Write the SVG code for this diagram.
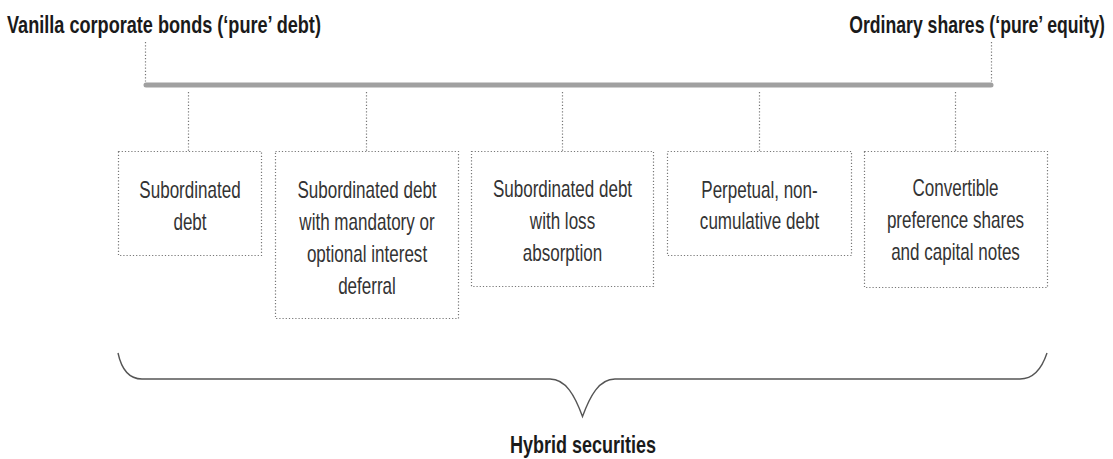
<svg xmlns="http://www.w3.org/2000/svg" width="1113" height="459" viewBox="0 0 1113 459">
<style>
.title{font-family:"Liberation Sans",Arial,sans-serif;font-weight:bold;font-size:24px;fill:#1a1a1a}
.lbl{font-family:"Liberation Sans",Arial,sans-serif;font-size:24px;fill:#333;text-anchor:middle}
.box{fill:none;stroke:#777;stroke-width:1.2;stroke-dasharray:1.2 2}
.dot{stroke:#777;stroke-width:1.2;stroke-dasharray:1.2 2;fill:none}
</style>
<rect width="1113" height="459" fill="#fff"/>
<g id="title-debt" transform="translate(7,0) scale(0.755,1)"><text class="title" x="0" y="33">Vanilla corporate bonds (‘pure’ debt)</text></g>
<g id="title-equity" transform="translate(1105,0) scale(0.7355,1)"><text class="title" x="0" y="33" text-anchor="end">Ordinary shares (‘pure’ equity)</text></g>
<g id="connectors">
<line class="dot" x1="145.5" y1="42" x2="145.5" y2="84"/>
<line class="dot" x1="991.5" y1="42" x2="991.5" y2="84"/>
<line x1="146" y1="85" x2="991" y2="85" stroke="#a0a0a0" stroke-width="5" stroke-linecap="round"/>
<line class="dot" x1="188.5" y1="92" x2="188.5" y2="151"/>
<line class="dot" x1="366.5" y1="92" x2="366.5" y2="151"/>
<line class="dot" x1="562.5" y1="92" x2="562.5" y2="151"/>
<line class="dot" x1="759.5" y1="92" x2="759.5" y2="151"/>
<line class="dot" x1="955.5" y1="92" x2="955.5" y2="151"/>
<path d="M118,353 C121,367 128,379 142,379 L550,379 C566,379 575,396 582.5,416.5 C590,396 599,379 615,379 L1020,379 C1034,379 1042,368 1047,353" fill="none" stroke="#555" stroke-width="1.4"/>
</g>
<g id="node1"><rect class="box" x="118.5" y="151.5" width="143" height="104"/>
<g transform="translate(190,0) scale(0.71,1)"><text class="lbl" x="0" y="198">Subordinated</text><text class="lbl" x="0" y="230">debt</text></g></g>
<g id="node2"><rect class="box" x="275.5" y="151.5" width="183" height="167"/>
<g transform="translate(367,0) scale(0.71,1)"><text class="lbl" x="0" y="198">Subordinated debt</text><text class="lbl" x="0" y="230">with mandatory or</text><text class="lbl" x="0" y="262">optional interest</text><text class="lbl" x="0" y="294">deferral</text></g></g>
<g id="node3"><rect class="box" x="471.5" y="151.5" width="182" height="135"/>
<g transform="translate(562.5,0) scale(0.71,1)"><text class="lbl" x="0" y="197">Subordinated debt</text><text class="lbl" x="0" y="229">with loss</text><text class="lbl" x="0" y="261">absorption</text></g></g>
<g id="node4"><rect class="box" x="667.5" y="151.5" width="184" height="104"/>
<g transform="translate(759.5,0) scale(0.71,1)"><text class="lbl" x="0" y="198">Perpetual, non-</text><text class="lbl" x="0" y="229">cumulative debt</text></g></g>
<g id="node5"><rect class="box" x="864.5" y="151.5" width="183" height="136"/>
<g transform="translate(955.5,0) scale(0.71,1)"><text class="lbl" x="0" y="196">Convertible</text><text class="lbl" x="0" y="228">preference shares</text><text class="lbl" x="0" y="260">and capital notes</text></g></g>
<g id="hybrid" transform="translate(583,0) scale(0.75,1)"><text class="title" x="0" y="453" text-anchor="middle">Hybrid securities</text></g>
</svg>
